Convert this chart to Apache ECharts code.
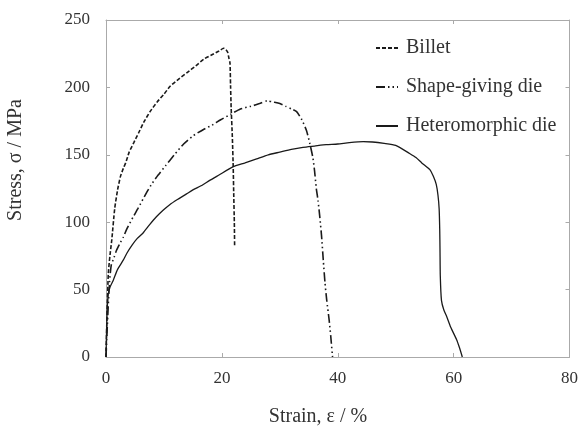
<!DOCTYPE html>
<html><head><meta charset="utf-8">
<script src="https://cdn.jsdelivr.net/npm/echarts@6/dist/echarts.min.js"></script>
<style>html,body{margin:0;padding:0;background:#fff}#c{width:581px;height:427px}</style>
</head><body><div id="c"></div>
<script>
var xTicks = [0, 20, 40, 60, 80];
var yTicks = [0, 50, 100, 150, 200, 250];
var seriesNames = ['Billet', 'Shape-giving die', 'Heteromorphic die'];

var billetStrain = [0, 0.2, 0.4, 0.7, 1.0, 1.5, 2.0, 2.5, 3.0, 3.4, 4.0, 4.8, 5.6, 6.5, 7.6, 8.8, 10.0, 11.1, 12.5, 14.0, 15.5, 16.9, 18.2, 19.5, 20.3, 20.7, 21.0, 21.2, 21.4, 21.5, 21.6, 21.8, 21.95, 22.05, 22.15, 22.2];
var billetStress = [0, 35, 62, 76, 87, 110, 124, 134, 140, 144, 152, 159, 166, 174, 182, 189, 195, 201, 206, 211, 216, 221, 224, 227, 229, 228, 226, 222, 218, 201, 185, 164, 142, 120, 100, 82];

var shapeStrain = [0, 0.3, 0.6, 0.9, 1.4, 1.8, 2.5, 3.0, 3.6, 4.7, 5.5, 7.0, 8.0, 9.0, 10.3, 11.8, 13.4, 15.0, 16.9, 18.3, 19.8, 21.5, 23.2, 25.0, 26.5, 27.8, 29.0, 30.0, 31.0, 32.0, 32.9, 33.8, 34.6, 35.2, 35.7, 36.0, 36.3, 36.6, 36.9, 37.2, 37.5, 37.8, 38.1, 38.5, 38.8, 39.1];
var shapeStress = [0, 30, 55, 68, 74, 79, 85, 89, 95, 104, 110, 122, 129, 135, 142, 150, 158, 164, 169, 172, 176, 180, 184, 186, 188, 190, 189, 188, 186, 184, 182, 176, 168, 158, 148, 138, 125, 116, 104, 90, 72, 55, 42, 28, 15, 0];

var heteroStrain = [0, 0.1, 0.2, 0.4, 0.7, 1.26, 2.0, 3.0, 3.6, 4.5, 5.4, 6.4, 7.5, 8.7, 9.9, 11.0, 12.4, 13.9, 15.0, 16.4, 17.9, 19.5, 21.9, 24.0, 26.0, 28.0, 30.0, 32.0, 34.0, 36.0, 38.0, 40.0, 42.0, 44.4, 46.0, 48.0, 50.0, 52.4, 53.5, 54.5, 55.9, 56.5, 57.0, 57.3, 57.5, 57.6, 57.65, 57.7, 57.9, 58.3, 58.8, 59.5, 60.5, 61.0, 61.5];
var heteroStress = [0, 20, 35, 47, 52, 57, 65, 72, 77, 83, 88, 92, 98, 104, 109, 113, 117, 121, 124, 127, 131, 135, 141, 144, 147, 150, 152, 154, 155.5, 156.5, 157.5, 158, 159, 159.7, 159.5, 158.5, 157, 151, 148, 144, 139, 134, 128, 120, 110, 95, 79, 60, 42, 35, 30, 22, 13, 7, 0];

function pairs(xs, ys) { return xs.map(function (x, i) { return [x, ys[i]]; }); }

var font = 'Liberation Serif';
var axisCol = '#aaaaaa';
var txtCol = '#333333';

function baseX(pos, show) {
  return {
    type: 'value', position: pos, min: xTicks[0], max: xTicks[xTicks.length - 1], interval: 20,
    axisLine: { show: true, onZero: false, lineStyle: { color: axisCol, width: 1 } },
    axisTick: { show: true, inside: true, length: 4, lineStyle: { color: axisCol } },
    axisLabel: { show: show, margin: 13, fontFamily: font, fontSize: 17, color: txtCol },
    splitLine: { show: false }
  };
}
function baseY(pos, show) {
  return {
    type: 'value', position: pos, min: yTicks[0], max: yTicks[yTicks.length - 1], interval: 50,
    axisLine: { show: true, onZero: false, lineStyle: { color: axisCol, width: 1 } },
    axisTick: { show: true, inside: true, length: 4, lineStyle: { color: axisCol } },
    axisLabel: { show: show, margin: 16, fontFamily: font, fontSize: 17, color: txtCol },
    splitLine: { show: false }
  };
}

var chart = echarts.init(document.getElementById('c'), null, { renderer: 'canvas' });
var lineCol = '#1a1a1a';
chart.setOption({
  animation: false,
  backgroundColor: '#ffffff',
  grid: { left: 106, right: 11, top: 20, bottom: 70, containLabel: false },
  xAxis: [baseX('bottom', true), baseX('top', false)],
  yAxis: [baseY('left', true), baseY('right', false)],
  legend: {
    orient: 'vertical', left: 375, top: 38, padding: 0,
    itemWidth: 22, itemHeight: 14, itemGap: 19,
    itemStyle: { color: 'rgba(0,0,0,0)', borderColor: 'rgba(0,0,0,0)', borderWidth: 0, opacity: 0 },
    textStyle: { fontFamily: font, fontSize: 20, color: txtCol, padding: [0, 0, 0, 3] },
    data: seriesNames
  },
  graphic: [
    { type: 'text', x: 318, y: 417, style: { text: 'Strain, ε / %', font: '20px "Liberation Serif"', fill: txtCol, align: 'center', verticalAlign: 'middle' } },
    { type: 'text', rotation: Math.PI / 2, x: 16, y: 160, style: { text: 'Stress, σ / MPa', font: '20px "Liberation Serif"', fill: txtCol, align: 'center', verticalAlign: 'middle' } }
  ],
  series: [
    { name: seriesNames[0], type: 'line', data: pairs(billetStrain, billetStress), showSymbol: false, symbol: 'none', color: lineCol, smooth: 0.2,
      lineStyle: { color: lineCol, width: 1.6, type: [4, 2] } },
    { name: seriesNames[1], type: 'line', data: pairs(shapeStrain, shapeStress), showSymbol: false, symbol: 'none', color: lineCol, smooth: 0.2,
      lineStyle: { color: lineCol, width: 1.6, type: [9, 3, 1.5, 3, 1.5, 3] } },
    { name: seriesNames[2], type: 'line', data: pairs(heteroStrain, heteroStress), showSymbol: false, symbol: 'none', color: lineCol, smooth: 0.2,
      lineStyle: { color: lineCol, width: 1.3, type: 'solid' } }
  ]
});
</script>
</body></html>
